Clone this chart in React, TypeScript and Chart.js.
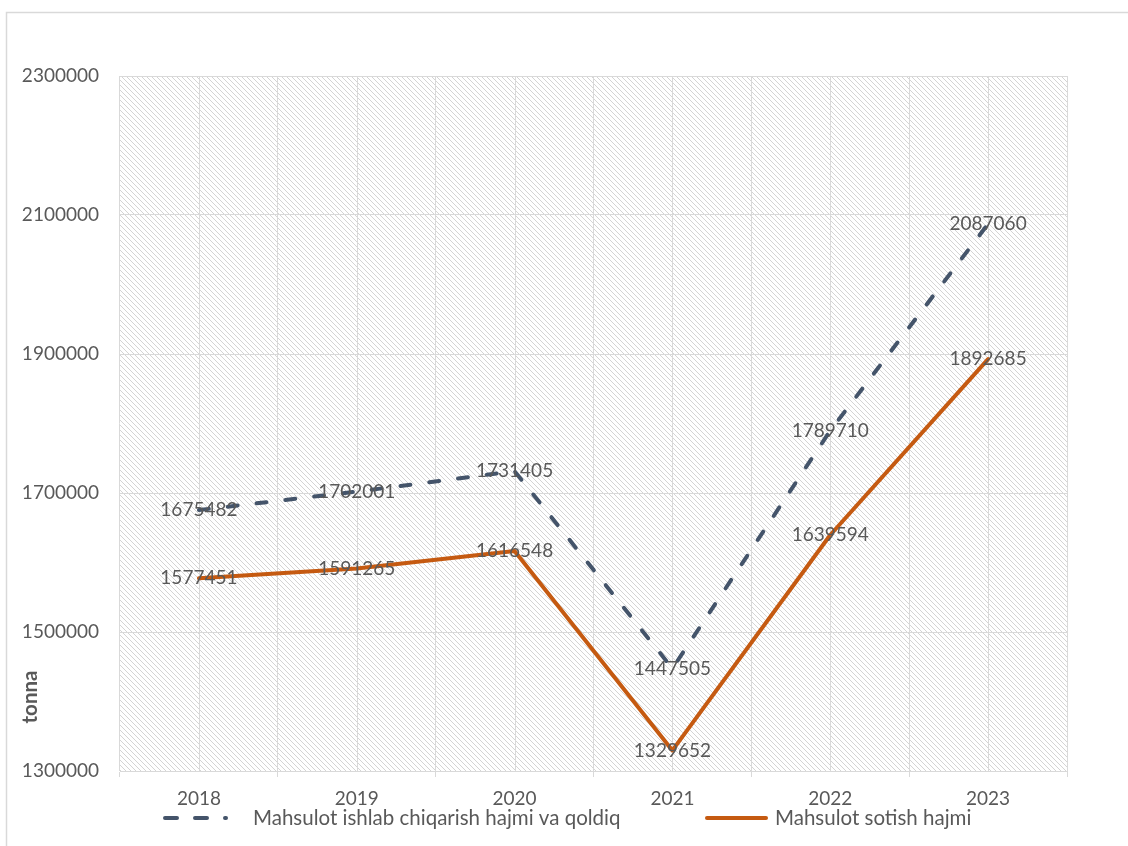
import React, { useEffect, useRef } from "react";
import { Chart, registerables } from "chart.js";

Chart.register(...registerables);

// ---- data ----
const categories = ["2018", "2019", "2020", "2021", "2022", "2023"];
const productionLabel = "Mahsulot ishlab chiqarish hajmi va qoldiq";
const productionValues = [1675482, 1702001, 1731405, 1447505, 1789710, 2087060];
const salesLabel = "Mahsulot sotish hajmi";
const salesValues = [1577451, 1591265, 1616548, 1329652, 1639594, 1892685];
const yMin = 1300000;
const yMax = 2300000;
const yStep = 200000;
const yAxisTitle = "tonna";

// ---- style ----
const FONT = "Lato, 'Open Sans', sans-serif";
const FONT_SIZE = 19;
const LEGEND_SIZE = 20.5;
const TEXT = "#595959";
const GRID = "#d9d9d9";
const DARK = "#44546A";
const ORANGE = "#C55A11";
const W = 1128;
const H = 846;

function makeHatch(ctx: CanvasRenderingContext2D) {
  const c = document.createElement("canvas");
  const s = 5;
  c.width = s;
  c.height = s;
  const g = c.getContext("2d")!;
  g.fillStyle = "#ffffff";
  g.fillRect(0, 0, s, s);
  g.strokeStyle = "#d4d4d4";
  g.lineWidth = 1;
  g.beginPath();
  g.moveTo(-1, -1);
  g.lineTo(s + 1, s + 1);
  g.moveTo(-1, s - 1);
  g.lineTo(1, s + 1);
  g.moveTo(s - 1, -1);
  g.lineTo(s + 1, 1);
  g.stroke();
  return ctx.createPattern(c, "repeat");
}

export default function App() {
  const ref = useRef<HTMLCanvasElement | null>(null);

  useEffect(() => {
    const canvas = ref.current;
    if (!canvas) return;
    const ctx0 = canvas.getContext("2d")!;
    const hatch = makeHatch(ctx0);

    const decor = {
      id: "decor",
      beforeDraw(chart: any) {
        const { ctx, chartArea: a } = chart;
        ctx.save();
        ctx.fillStyle = "#ffffff";
        ctx.fillRect(0, 0, chart.width, chart.height);
        ctx.strokeStyle = GRID;
        ctx.lineWidth = 1.5;
        ctx.strokeRect(6.5, 12.5, chart.width + 20, chart.height + 20);
        if (hatch) {
          ctx.fillStyle = hatch;
          ctx.fillRect(a.left, a.top, a.right - a.left, a.bottom - a.top);
        }
        ctx.restore();
      },
      beforeDatasetsDraw(chart: any) {
        const { ctx, chartArea: a } = chart;
        const xs = chart.scales.x;
        ctx.save();
        ctx.strokeStyle = GRID;
        ctx.lineWidth = 1;
        ctx.beginPath();
        categories.forEach((_, i) => {
          const px = Math.round(xs.getPixelForValue(i)) + 0.5;
          ctx.moveTo(px, a.top);
          ctx.lineTo(px, a.bottom);
        });
        ctx.stroke();
        ctx.restore();
      },
      afterDatasetsDraw(chart: any) {
        const { ctx, chartArea: a } = chart;
        ctx.save();
        // data labels
        ctx.font = `${FONT_SIZE}px ${FONT}`;
        ctx.fillStyle = TEXT;
        ctx.textAlign = "center";
        ctx.textBaseline = "middle";
        chart.data.datasets.forEach((ds: any, di: number) => {
          const meta = chart.getDatasetMeta(di);
          meta.data.forEach((pt: any, i: number) => {
            ctx.fillText(String(ds.data[i]), pt.x, pt.y);
          });
        });
        // y axis title
        ctx.save();
        ctx.translate(30, a.bottom - 74);
        ctx.rotate(-Math.PI / 2);
        ctx.font = `bold ${LEGEND_SIZE}px ${FONT}`;
        ctx.fillText(yAxisTitle, 0, 0);
        ctx.restore();
        // legend
        const ly = 818;
        const items = [
          { x0: 165, x1: 226, tx: 253 },
          { x0: 707, x1: 766, tx: 775 },
        ];
        chart.data.datasets.forEach((ds: any, di: number) => {
          const it = items[di];
          ctx.save();
          ctx.strokeStyle = ds.borderColor;
          ctx.lineWidth = ds.borderWidth;
          ctx.lineCap = "round";
          ctx.setLineDash(ds.borderDash && ds.borderDash.length ? [12, 18] : []);
          ctx.beginPath();
          ctx.moveTo(it.x0, ly);
          ctx.lineTo(it.x1, ly);
          ctx.stroke();
          ctx.restore();
          ctx.textAlign = "left";
          ctx.textBaseline = "middle";
          ctx.font = `${LEGEND_SIZE}px ${FONT}`;
          ctx.fillStyle = TEXT;
          ctx.fillText(ds.label, it.tx, ly);
        });
        ctx.restore();
      },
    };

    const chart = new Chart(canvas, {
      type: "line",
      data: {
        labels: categories,
        datasets: [
          {
            label: productionLabel,
            data: productionValues,
            borderColor: DARK,
            backgroundColor: DARK,
            borderWidth: 4,
            borderDash: [10, 19],
            borderCapStyle: "round",
            borderJoinStyle: "round",
            pointRadius: 0,
            tension: 0,
            fill: false,
          },
          {
            label: salesLabel,
            data: salesValues,
            borderColor: ORANGE,
            backgroundColor: ORANGE,
            borderWidth: 4,
            borderCapStyle: "round",
            borderJoinStyle: "round",
            pointRadius: 0,
            tension: 0,
            fill: false,
          },
        ],
      },
      options: {
        responsive: false,
        animation: false,
        devicePixelRatio: 1,
        layout: { padding: { top: 76, right: 61, left: 0, bottom: 0 } },
        plugins: {
          legend: { display: false },
          tooltip: { enabled: false },
          title: { display: false },
        },
        scales: {
          x: {
            type: "category",
            offset: true,
            grid: {
              offset: true,
              color: GRID,
              lineWidth: 1,
              drawTicks: true,
              tickLength: 6,
              tickColor: GRID,
            },
            border: { display: true, color: GRID, width: 1 },
            ticks: {
              color: TEXT,
              font: { family: FONT, size: FONT_SIZE },
              padding: 10,
              maxRotation: 0,
              autoSkip: false,
            },
            afterFit(scale: any) {
              scale.height = 75;
            },
          },
          y: {
            type: "linear",
            min: yMin,
            max: yMax,
            grid: { color: GRID, lineWidth: 1, drawTicks: false },
            border: { display: false },
            ticks: {
              stepSize: yStep,
              color: TEXT,
              font: { family: FONT, size: FONT_SIZE },
              padding: 21,
              callback: (v: any) => String(v),
            },
            afterFit(scale: any) {
              scale.width = 120;
            },
          },
        },
      },
      plugins: [decor],
    } as any);

    return () => chart.destroy();
  }, []);

  return (
    <div style={{ position: "fixed", left: 0, top: 0, width: W, height: H, background: "#fff" }}>
      <canvas ref={ref} width={W} height={H} style={{ display: "block", width: W, height: H }} />
    </div>
  );
}
